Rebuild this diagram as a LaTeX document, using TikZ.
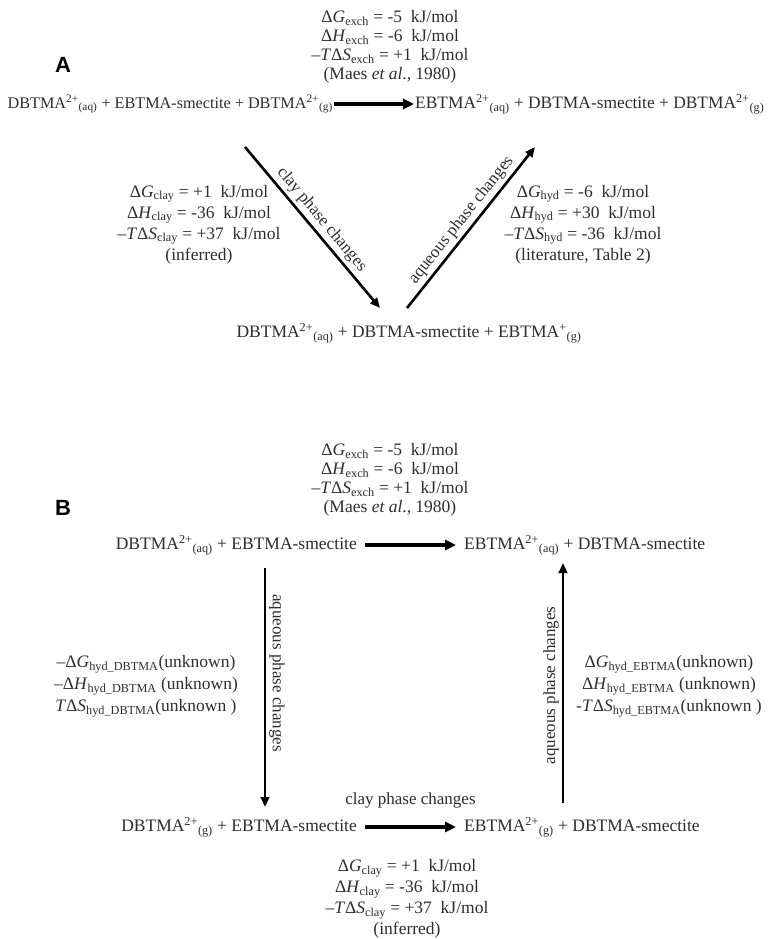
\documentclass[tikz,border=0pt]{standalone}
\usepackage{fontspec}
\setmainfont{Liberation Serif}
\newfontfamily\lblfont{Liberation Sans}
\usetikzlibrary{arrows.meta}

\newcommand{\sbt}[1]{\textsubscript{#1}}
\newcommand{\spt}[1]{\textsuperscript{#1}}
\newcommand{\dQ}[2]{Δ\textit{#1}\sbt{#2}}
\newcommand{\tdS}[1]{\textit{T}Δ\textit{S}\sbt{#1}}

\tikzset{
 rxnA/.style={inner xsep=1pt, inner ysep=2pt, text=black!82, font=\fontsize{16.2}{19}\selectfont},
 rxnB/.style={inner xsep=8pt, inner ysep=2pt, text=black!82, font=\fontsize{17.5}{20}\selectfont},
 blk/.style={align=center, inner sep=0pt, text=black!82, font=\fontsize{17.5}{21}\selectfont},
 exblk/.style={blk, font=\fontsize{17.5}{19}\selectfont},
 lbl/.style={inner sep=3pt, text=black!82, font=\fontsize{17}{20}\selectfont},
 panel/.style={font=\lblfont\bfseries\fontsize{22}{22}\selectfont},
 harrow/.style={-{Triangle[length=11pt,width=10pt]}, line width=3.6pt},
 sarrow/.style={-{Triangle[length=10pt,width=8.5pt]}, line width=2.6pt}
}

\begin{document}
\begin{tikzpicture}[x=1pt,y=1pt]
\fill[white] (0,0) rectangle (778,-939);
\useasboundingbox (0,0) rectangle (778,-939);

 \begin{scope}[shift={(0,0)}]
\node[panel] (labA) at (63,-65) {A};
\node[exblk] (exA) at (390,-47) {\dQ{G}{exch} = -5\enspace kJ/mol\\
 \dQ{H}{exch} = -6\enspace kJ/mol\\
 –\tdS{exch} = +1\enspace kJ/mol\\
 (Maes \textit{et al}., 1980)};
\node[rxnA, anchor=east] (a1) at (334,-104)
 {DBTMA\spt{2+}\sbt{(aq)} + EBTMA-smectite + DBTMA\spt{2+}\sbt{(g)}};
\node[rxnA, anchor=west, font=\fontsize{17.4}{19}\selectfont] (a2) at (414,-104)
 {EBTMA\spt{2+}\sbt{(aq)} + DBTMA-smectite + DBTMA\spt{2+}\sbt{(g)}};
\draw[harrow] (a1.east) -- (a2.west);
\node[rxnA, font=\fontsize{17.5}{19}\selectfont] (a3) at (409,-333)
 {DBTMA\spt{2+}\sbt{(aq)} + DBTMA-smectite + EBTMA\spt{+}\sbt{(g)}};
\coordinate (d1s) at (245,-147);
\coordinate (d1e) at (380,-308);
\coordinate (d2s) at (407,-308);
\coordinate (d2e) at (535,-147);
\draw[sarrow] (d1s) -- (d1e) node[pos=0.5, sloped, above, lbl] {clay phase changes};
\draw[sarrow] (d2s) -- (d2e) node[pos=0.5, sloped, above, lbl] {aqueous phase changes};
\node[blk] (clA) at (199,-224.5) {\dQ{G}{clay} = +1\enspace kJ/mol\\
 \dQ{H}{clay} = -36\enspace kJ/mol\\
 –\tdS{clay} = +37\enspace kJ/mol\\
 (inferred)};
\node[blk] (hyA) at (583,-224.5) {\dQ{G}{hyd} = -6\enspace kJ/mol\\
 \dQ{H}{hyd} = +30\enspace kJ/mol\\
 –\tdS{hyd} = -36\enspace kJ/mol\\
 (literature, Table 2)};
 \end{scope}

 \begin{scope}[shift={(0,-440)}]
\node[panel] (labB) at (63,-68) {B};
\node[exblk] (exB) at (390,-40) {\dQ{G}{exch} = -5\enspace kJ/mol\\
 \dQ{H}{exch} = -6\enspace kJ/mol\\
 –\tdS{exch} = +1\enspace kJ/mol\\
 (Maes \textit{et al}., 1980)};
\node[rxnB, anchor=east] (b1) at (365,-105) {DBTMA\spt{2+}\sbt{(aq)} + EBTMA-smectite};
\node[rxnB, anchor=west] (b2) at (456,-105) {EBTMA\spt{2+}\sbt{(aq)} + DBTMA-smectite};
\draw[harrow] (b1.east) -- (b2.west);
\node[rxnB, anchor=east] (b3) at (365,-387) {DBTMA\spt{2+}\sbt{(g)} + EBTMA-smectite};
\node[rxnB, anchor=west] (b4) at (456,-387) {EBTMA\spt{2+}\sbt{(g)} + DBTMA-smectite};
\draw[harrow] (b3.east) -- (b4.west) node[midway, yshift=27pt, lbl] {clay phase changes};
\coordinate (v1s) at (265,-128);
\coordinate (v1e) at (265,-367);
\coordinate (v2s) at (563,-363);
\coordinate (v2e) at (563,-123);
\draw[sarrow] (v1s) -- (v1e) node[pos=0.44, sloped, above, lbl] {aqueous phase changes};
\draw[sarrow] (v2s) -- (v2e) node[pos=0.49, sloped, above, lbl] {aqueous phase changes};
\node[blk, font=\fontsize{17.5}{22}\selectfont] (unL) at (146,-246)
 {–\dQ{G}{hyd\_DBTMA}(unknown)\\
 –\dQ{H}{hyd\_DBTMA} (unknown)\\
 \tdS{hyd\_DBTMA}(unknown )};
\node[blk, font=\fontsize{17.5}{22}\selectfont] (unR) at (669,-246)
 {\dQ{G}{hyd\_EBTMA}(unknown)\\
 \dQ{H}{hyd\_EBTMA} (unknown)\\
 -\tdS{hyd\_EBTMA}(unknown )};
\node[blk] (clB) at (407,-459) {\dQ{G}{clay} = +1\enspace kJ/mol\\
 \dQ{H}{clay} = -36\enspace kJ/mol\\
 –\tdS{clay} = +37\enspace kJ/mol\\
 (inferred)};
 \end{scope}
\end{tikzpicture}
\end{document}
